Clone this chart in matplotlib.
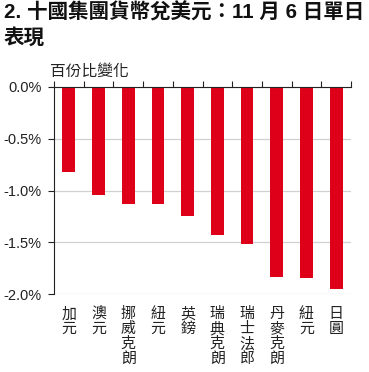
import matplotlib
matplotlib.use("Agg")
import matplotlib.pyplot as plt

plt.rcParams['font.family'] = ['Liberation Sans', 'Noto Sans CJK TC', 'DejaVu Sans']

categories = ["加元", "澳元", "挪威克朗", "紐元", "英鎊", "瑞典克朗", "瑞士法郎", "丹麥克朗", "紐元", "日圓"]
values = [-0.82, -1.04, -1.13, -1.13, -1.25, -1.43, -1.52, -1.84, -1.85, -1.95]
yticks = [0.0, -0.5, -1.0, -1.5, -2.0]
ytick_labels = ["0.0%", "-0.5%", "-1.0%", "-1.5%", "-2.0%"]
title_line1 = "2. 十國集團貨幣兌美元：11 月 6 日單日"
title_line2 = "表現"
unit_label = "百份比變化"

fig = plt.figure(figsize=(3.69, 3.72), dpi=100)
ax = fig.add_axes([54/369, 1-294/372, 297/369, (294-87)/372])

x = list(range(len(categories)))
ax.bar(x, values, width=0.43, color="#DE0019", zorder=3)

ax.set_xlim(-0.5, len(categories)-0.5)
ax.set_ylim(-2.0, 0.0)
ax.set_yticks(yticks)
ax.set_yticklabels(ytick_labels, fontsize=10.5, color="#222222")
ax.yaxis.grid(True, color="#d0d0d0", linewidth=0.9, zorder=0)

for s in ["right", "bottom"]:
    ax.spines[s].set_visible(False)
ax.spines["top"].set_color("#222222")
ax.spines["left"].set_color("#222222")
ax.spines["top"].set_zorder(4)

ax.xaxis.tick_top()
ax.set_xticks([i - 0.5 for i in range(len(categories)+1)])
ax.set_xticklabels([])
ax.tick_params(axis="x", direction="out", length=4, color="#222222", top=True, bottom=False)
ax.tick_params(axis="y", direction="out", length=4, color="#222222", pad=5)

# vertical stacked labels, one character per row (offsets in points)
row_pt = 15 * 72 / 100
for i, c in enumerate(categories):
    for j, ch in enumerate(c):
        ax.annotate(ch, xy=(i, -2.0), xycoords="data",
                    xytext=(0, -13 * 72 / 100 - j * row_pt), textcoords="offset points",
                    ha="center", va="top", fontsize=10.8, color="#222222",
                    family=['Noto Sans CJK TC'], annotation_clip=False)

fig.text(4/369, 1-2/372, title_line1, ha="left", va="top", fontsize=14.8, fontweight="bold",
         color="#111111")
fig.text(4/369, 1-28/372, title_line2, ha="left", va="top", fontsize=14.8, fontweight="bold",
         color="#111111")
fig.text(50/369, 1-63/372, unit_label, ha="left", va="top", fontsize=11.3, color="#222222",
         family=['Noto Sans CJK TC'])

fig.savefig("out.png", dpi=100)
